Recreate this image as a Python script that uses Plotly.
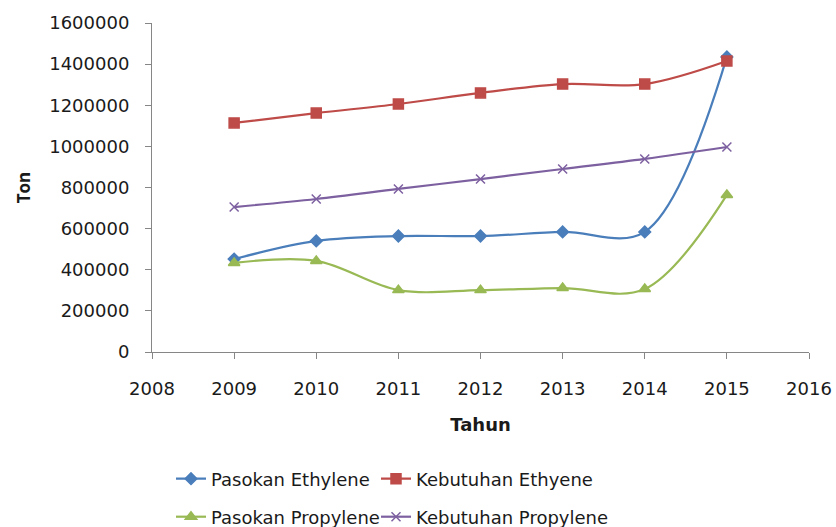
import plotly.graph_objects as go

years = [2009, 2010, 2011, 2012, 2013, 2014, 2015]
pasokan_ethylene = [452000, 540000, 564000, 564000, 584000, 584000, 1435000]
kebutuhan_ethyene = [1114000, 1162000, 1206000, 1260000, 1303000, 1303000, 1415000]
pasokan_propylene = [433000, 443000, 301000, 301000, 311000, 306000, 764000]
kebutuhan_propylene = [705000, 744000, 793000, 841000, 890000, 939000, 997000]

x_ticks = [2008, 2009, 2010, 2011, 2012, 2013, 2014, 2015, 2016]
y_ticks = [0, 200000, 400000, 600000, 800000, 1000000, 1200000, 1400000, 1600000]

FONT = "DejaVu Sans"
TXT = "#1a1a1a"
AXIS = "#868686"

# name, values, colour, marker, size, legend slot, legend position (px from left, px from top)
series = [
    ("Pasokan Ethylene", pasokan_ethylene, "#4A7EBB", "diamond", 9, "legend", (171, 479)),
    ("Kebutuhan Ethyene", kebutuhan_ethyene, "#BE4B48", "square", 10, "legend2", (376, 479)),
    ("Pasokan Propylene", pasokan_propylene, "#98B954", "triangle-up", 10, "legend3", (171, 517)),
    ("Kebutuhan Propylene", kebutuhan_propylene, "#7D60A0", "x-thin-open", 9, "legend4", (376, 517)),
]

fig = go.Figure()
legends = {}
for name, vals, color, sym, size, leg, (lx, ly) in series:
    fig.add_trace(go.Scatter(
        x=years, y=vals, name=name, mode="lines+markers", showlegend=True,
        line=dict(color=color, width=2.2, shape="spline", smoothing=1.0),
        marker=dict(symbol=sym, size=size, color=color,
                    line=dict(color=color, width=1.5)),
        legend=leg,
    ))
    legends[leg] = dict(
        orientation="h", xref="container", yref="container",
        x=lx / 836, y=1 - ly / 527, xanchor="left", yanchor="middle",
        font=dict(family=FONT, size=18, color=TXT),
        bgcolor="rgba(0,0,0,0)", itemwidth=30,
    )

fig.update_layout(
    width=836, height=527,
    margin=dict(l=152, r=27, t=23, b=175),
    paper_bgcolor="white", plot_bgcolor="white",
    showlegend=True,
    font=dict(family=FONT, size=18, color=TXT),
    xaxis=dict(
        range=[2008, 2016], tickmode="array", tickvals=x_ticks, automargin=False,
        showgrid=False, zeroline=False, showline=True, linecolor=AXIS, linewidth=1,
        ticks="outside", ticklen=6, tickcolor=AXIS,
        tickfont=dict(family=FONT, size=18, color=TXT), ticklabelstandoff=14,
        title=dict(text="<b>Tahun</b>", font=dict(family=FONT, size=18, color=TXT), standoff=20),
    ),
    yaxis=dict(
        range=[0, 1600000], tickmode="array", tickvals=y_ticks, automargin=False,
        ticktext=[str(v) for v in y_ticks],
        showgrid=False, zeroline=False, showline=True, linecolor=AXIS, linewidth=1,
        ticks="outside", ticklen=6, tickcolor=AXIS,
        tickfont=dict(family=FONT, size=18, color=TXT), ticklabelstandoff=12,
        title=dict(text="<b>Ton</b>", font=dict(family="Open Sans", size=17, color=TXT), standoff=14),
    ),
    **legends,
)

fig.write_html("out.html")
